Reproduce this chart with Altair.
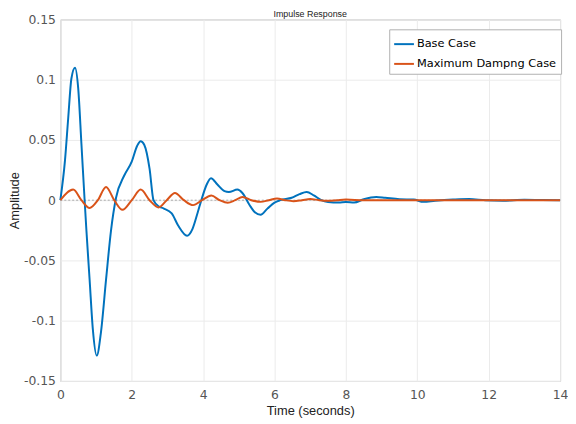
import altair as alt
import pandas as pd

# Base Case impulse response
base_t = [0, 0.13, 0.22, 0.31, 0.41, 0.5, 0.59, 0.68, 0.73, 0.82, 0.91, 1.02, 1.14, 1.28, 1.42, 1.56,
          1.79, 2.0, 2.15, 2.25, 2.35, 2.5, 2.61, 2.75, 2.89, 3.12, 3.3, 3.55, 3.7, 3.85, 3.95,
          4.1, 4.22, 4.4, 4.6, 4.72, 4.96, 5.1, 5.3, 5.45, 5.61, 5.8, 6.0, 6.16, 6.48, 6.7, 6.9,
          7.1, 7.31, 7.5, 7.8, 8.0, 8.23, 8.5, 8.85, 9.1, 9.5, 9.9, 10.17, 10.5, 11.0, 11.45,
          11.9, 12.4, 13.0, 13.5, 14.0]
base_y = [0, 0.033, 0.068, 0.101, 0.110, 0.093, 0.047, 0.0, -0.025, -0.066, -0.107, -0.129, -0.109,
          -0.066, -0.025, 0.002, 0.0205, 0.032, 0.045, 0.049, 0.046, 0.026, 0.0, -0.005, -0.0068,
          -0.011, -0.021, -0.0295, -0.024, -0.010, 0.0, 0.013, 0.0183, 0.013, 0.0075, 0.0068,
          0.0088, 0.006, -0.004, -0.010, -0.012, -0.007, -0.002, 0.0, 0.002, 0.005, 0.0068,
          0.004, 0.0, -0.0015, -0.002, -0.0015, -0.002, 0.0008, 0.0027, 0.002, 0.0008, 0.0005,
          -0.0014, -0.0005, 0.0005, 0.001, 0.0, -0.0004, 0.0003, 0.0001, 0.0]

# Maximum Damping Case impulse response
damp_t = [0, 0.36, 0.59, 0.82, 1.05, 1.28, 1.51, 1.74, 2.0, 2.25, 2.5, 2.75, 2.98, 3.21, 3.46,
          3.72, 3.97, 4.23, 4.46, 4.69, 4.9, 5.1, 5.35, 5.61, 5.84, 6.07, 6.3, 6.53, 6.77, 7.0,
          7.25, 7.5, 7.75, 8.0, 8.5, 9.0, 10.0, 11.0, 12.0, 13.0, 14.0]
damp_y = [0, 0.0088, 0.0, -0.0065, 0.0, 0.0109, 0.0, -0.008, 0.0, 0.0088, 0.0, -0.006, 0.0, 0.006,
          0.0, -0.0041, 0.0, 0.0038, 0.0, -0.0022, 0.0, 0.0027, 0.0, -0.0014, 0.0, 0.0014, 0.0,
          -0.0008, 0.0, 0.001, 0.0, -0.0005, 0.0, 0.0005, 0.0, 0.0, 0.0, 0.0, 0.0, 0.0, 0.0]

series_names = ["Base Case", "Maximum Dampng Case"]
series_colors = ["#0072BD", "#D95319"]
x_ticks = [0, 2, 4, 6, 8, 10, 12, 14]
y_ticks = [-0.15, -0.1, -0.05, 0, 0.05, 0.1, 0.15]

df = pd.concat([
    pd.DataFrame({"t": base_t, "y": base_y, "series": series_names[0], "o": 0}),
    pd.DataFrame({"t": damp_t, "y": damp_y, "series": series_names[1], "o": 1}),
])

tick_font = "DejaVu Sans"
title_font = "Liberation Sans"

x_enc = alt.X("t:Q", scale=alt.Scale(domain=[0, 14], nice=False),
              axis=alt.Axis(values=x_ticks, title="Time (seconds)", labelExpr="'' + datum.value",
                            labelPadding=8, titlePadding=3))
y_enc = alt.Y("y:Q", scale=alt.Scale(domain=[-0.15, 0.15], nice=False),
              axis=alt.Axis(values=y_ticks, title="Amplitude", labelExpr="'' + datum.value",
                            labelPadding=5, titlePadding=2))

zero = alt.Chart(pd.DataFrame({"y": [0]})).mark_rule(
    color="#a8a8a8", strokeDash=[2, 2], strokeWidth=1
).encode(y=alt.Y("y:Q", scale=alt.Scale(domain=[-0.15, 0.15], nice=False)))

lines = alt.Chart(df).mark_line(strokeWidth=2, interpolate="monotone").encode(
    x=x_enc,
    y=y_enc,
    color=alt.Color("series:N", scale=alt.Scale(domain=series_names, range=series_colors),
                    legend=alt.Legend(title=None, orient="none", legendX=333, legendY=10,
                                      symbolType="M-1,0H1", symbolSize=400, symbolStrokeWidth=2,
                                      labelFont=tick_font, labelFontSize=11.5, labelColor="#000000",
                                      strokeColor="#b0b0b0", fillColor="white", padding=4,
                                      rowPadding=3, labelOffset=2, cornerRadius=0)),
    order="o:Q",
    detail="series:N",
)

chart = alt.layer(zero, lines).properties(
    width=506, height=366,
    title=alt.TitleParams("Impulse Response", fontSize=9, font=title_font, fontWeight="normal",
                          color="#222222", offset=0, dy=6, anchor="middle"),
    autosize=alt.AutoSizeParams(type="none"),
    padding={"left": 53, "top": 9, "right": 8, "bottom": 40},
).configure_view(
    stroke="#b0b0b0", strokeWidth=1
).configure_axis(
    grid=True, gridColor="#ebebeb", domain=False, ticks=False, labelFlush=False,
    labelFont=tick_font, labelFontSize=12.5, labelColor="#555555",
    titleFont=title_font, titleFontSize=13, titleFontWeight="normal", titleColor="#222222",
)

chart.save("out.html", embed_options={"renderer": "svg", "actions": False})
